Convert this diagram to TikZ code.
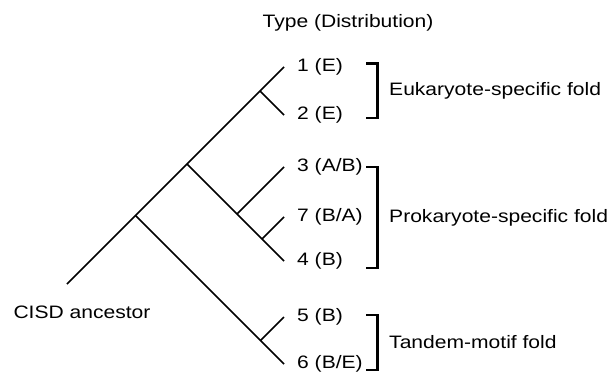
\documentclass[tikz,border=0pt]{standalone}
\usepackage{fontspec}
\setmainfont{Liberation Sans}[FakeStretch=1.17]
\begin{document}
\begin{tikzpicture}[
    x=1pt, y=-1pt,
    branch/.style={line width=1.7pt},
    bracket/.style={line width=2.2pt},
    leaf/.style={anchor=west, inner sep=0pt, xshift=13pt, font=\fontsize{18}{21.6}\selectfont},
    fold/.style={anchor=west, inner sep=0pt, font=\fontsize{18}{21.6}\selectfont}
]
    \useasboundingbox (0,0) rectangle (612,372);

    % Header and root label
    \node[fold, anchor=center] (title) at (348,23) {Type (Distribution)};
    \node[fold, anchor=center] (ancestor) at (82,312) {CISD ancestor};

    % Tree points
    \coordinate (root) at (67,284);
    \coordinate (nA) at (135.5,215.5);
    \coordinate (nB) at (187,164);
    \coordinate (nC) at (260,91);
    \coordinate (nD) at (237,214);
    \coordinate (nE) at (262,239);
    \coordinate (nF) at (260.5,340.5);

    % Leaves
    \coordinate (t1) at (284,67);
    \coordinate (t2) at (284,115);
    \coordinate (t3) at (284,167);
    \coordinate (t7) at (284,217);
    \coordinate (t4) at (284,261);
    \coordinate (t5) at (284,317);
    \coordinate (t6) at (284,364);

    \node[leaf] (type1) at (t1) {1 (E)};
    \node[leaf] (type2) at (t2) {2 (E)};
    \node[leaf] (type3) at (t3) {3 (A/B)};
    \node[leaf] (type7) at (t7) {7 (B/A)};
    \node[leaf] (type4) at (t4) {4 (B)};
    \node[leaf] (type5) at (t5) {5 (B)};
    \node[leaf] (type6) at (t6) {6 (B/E)};

    % Branches
    \draw[branch] (root) -- (t1);
    \draw[branch] (nC) -- (t2);
    \draw[branch] (nB) -- (t4);
    \draw[branch] (nD) -- (t3);
    \draw[branch] (nE) -- (t7);
    \draw[branch] (nA) -- (t6);
    \draw[branch] (nF) -- (t5);

    % Brackets
    \draw[bracket] (366,63.5) -| (377.5,118) -- (366,118);
    \draw[bracket] (366,167) -| (377.5,268) -- (366,268);
    \draw[bracket] (366,315) -| (377.5,370) -- (366,370);

    \node[fold] (euk) at (389,90.5) {Eukaryote-specific fold};
    \node[fold] (prok) at (389,217.5) {Prokaryote-specific fold};
    \node[fold] (tandem) at (389,342.5) {Tandem-motif fold};

\end{tikzpicture}
\end{document}
